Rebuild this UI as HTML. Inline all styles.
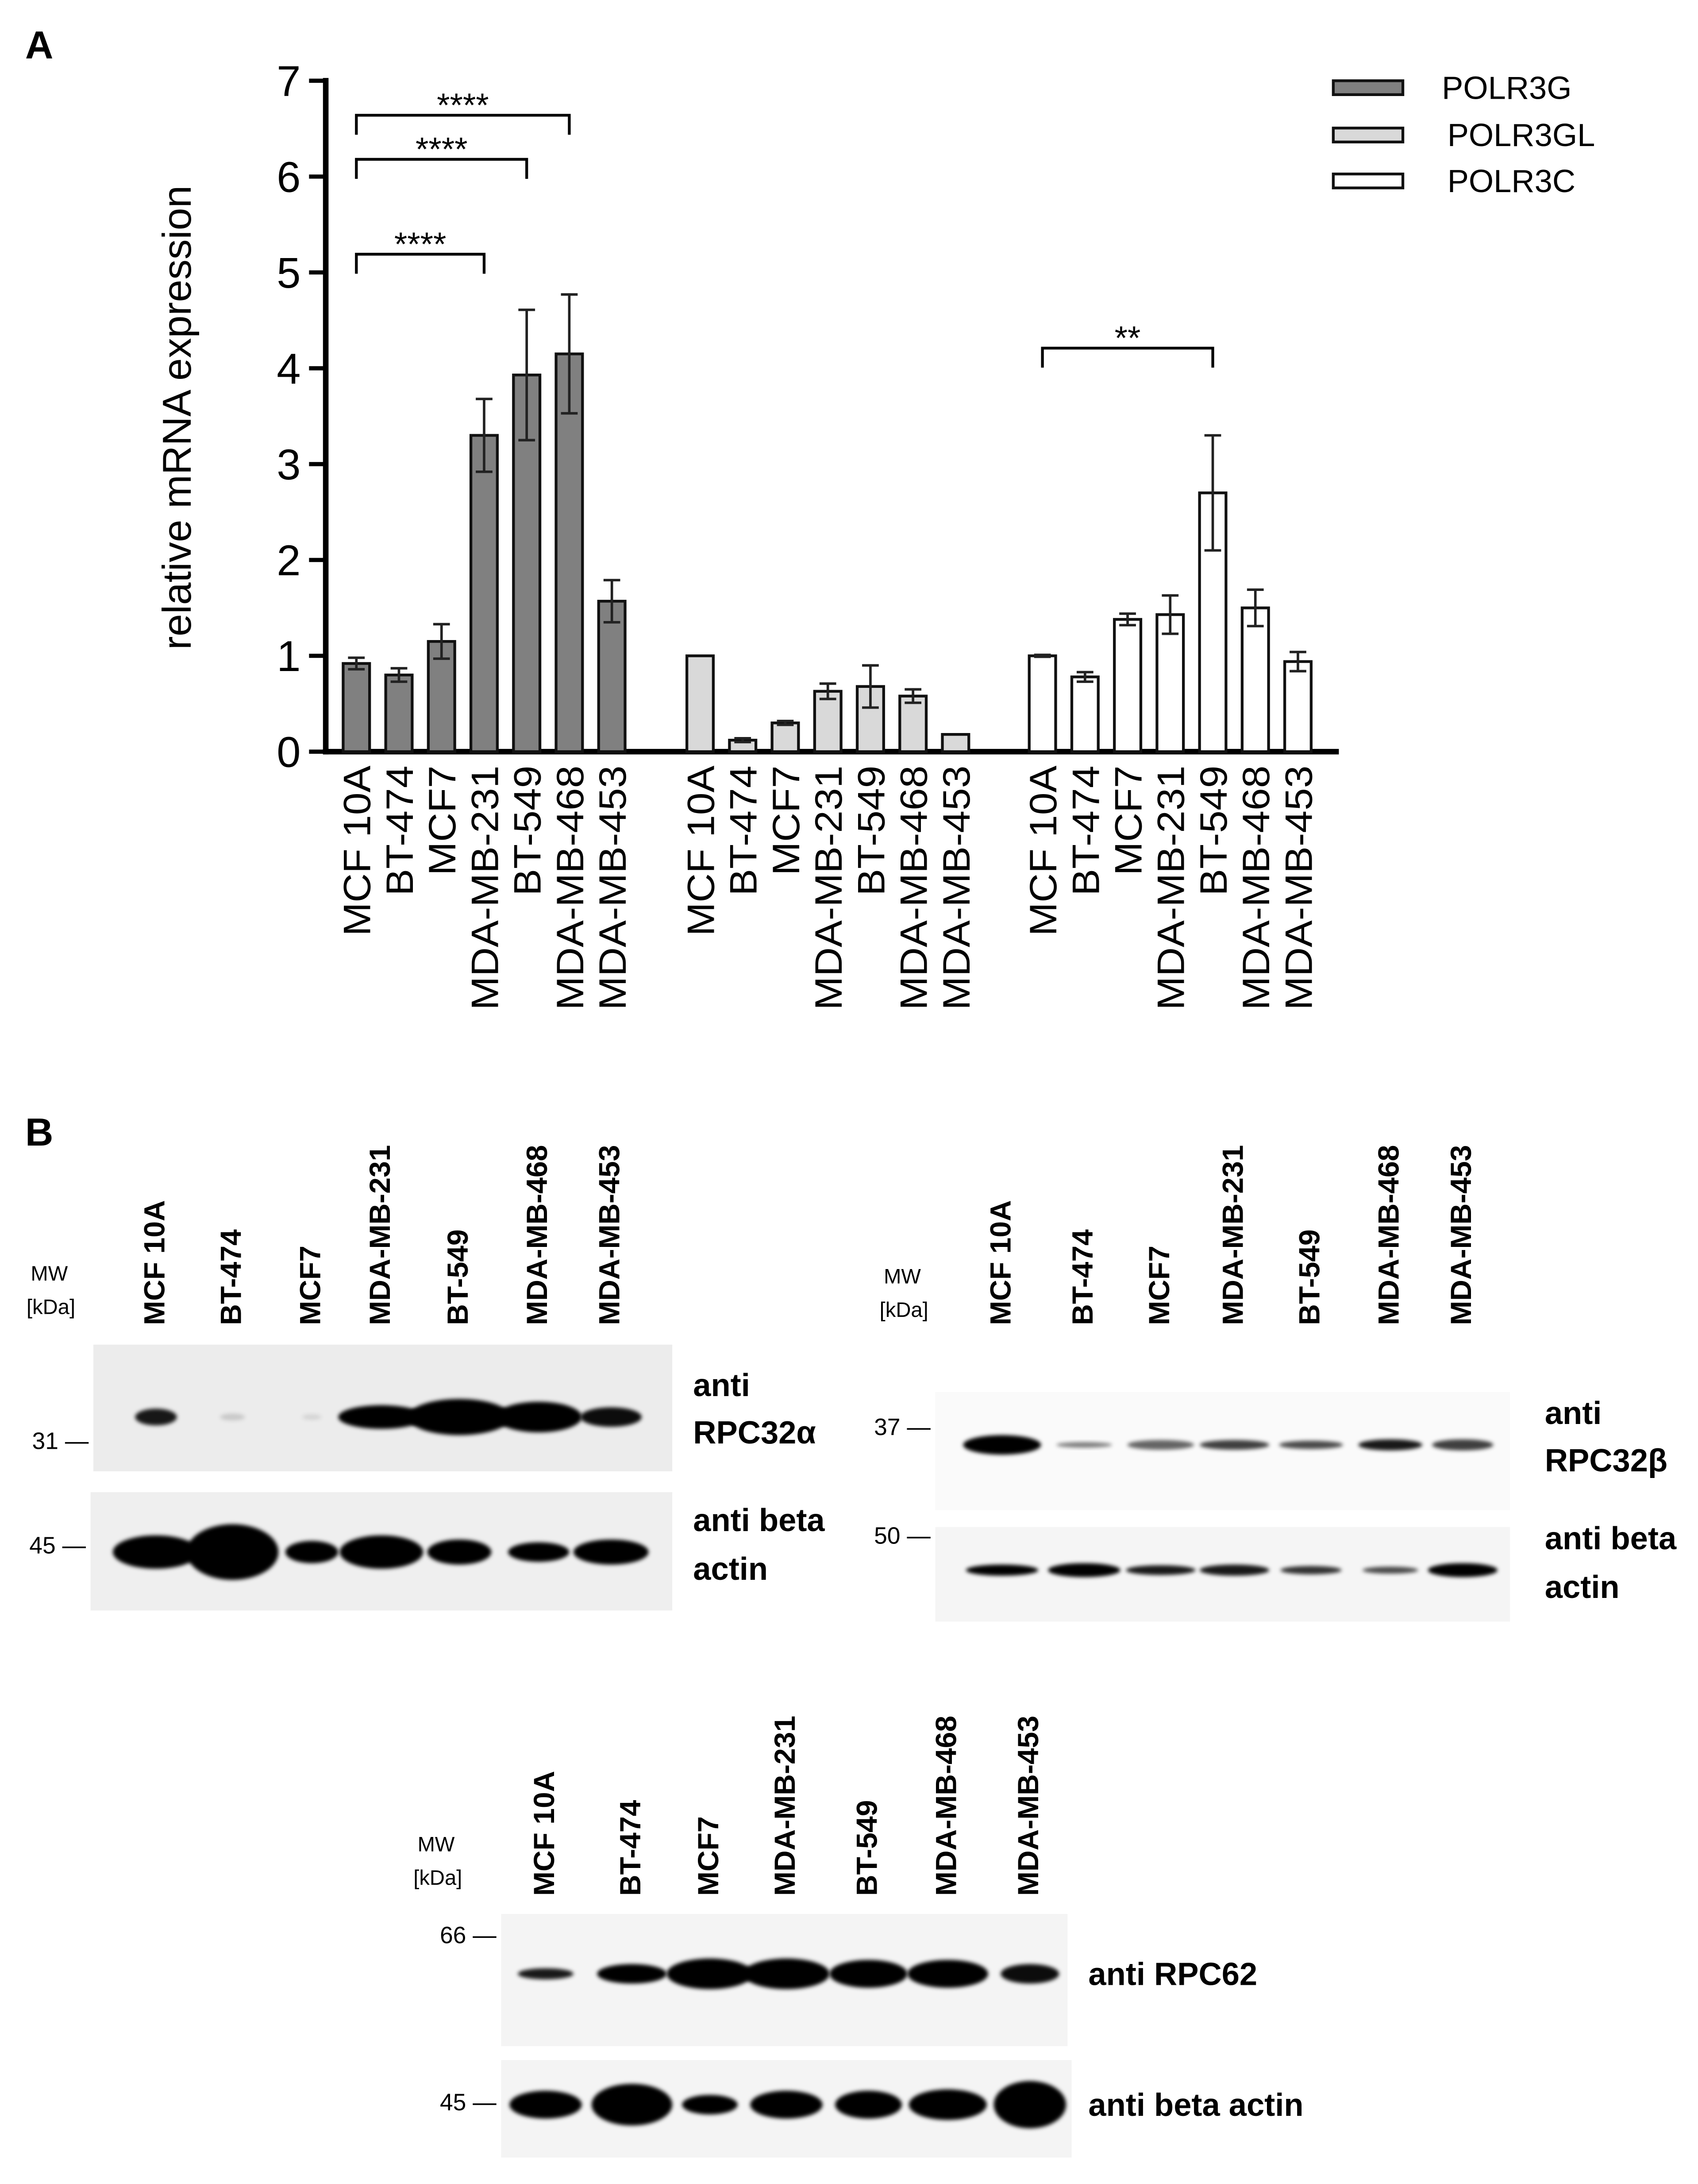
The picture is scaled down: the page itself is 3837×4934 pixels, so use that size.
<!DOCTYPE html>
<html><head><meta charset="utf-8">
<style>
html,body{margin:0;padding:0;background:#fff;}
svg{display:block;}
text{font-family:"Liberation Sans",sans-serif;}
.nar{font-family:"Liberation Sans Narrow","Liberation Sans",sans-serif;}
</style></head>
<body>
<svg id="fig" width="3837" height="4934" viewBox="0 0 1220 1569" xmlns="http://www.w3.org/2000/svg">
<defs>
<filter id="blur" x="-50%" y="-50%" width="200%" height="200%"><feGaussianBlur stdDeviation="1.4"/></filter>
</defs>
<rect x="0" y="0" width="1220" height="1569" fill="#fff"/>
<text x="18" y="42" font-size="28" font-weight="bold">A</text>
<g id="chart"></g>
<g id="blots"></g>
<text x="18" y="823" font-size="28" font-weight="bold">B</text>
</svg>
<script>
const categories = ["MCF 10A","BT-474","MCF7","MDA-MB-231","BT-549","MDA-MB-468","MDA-MB-453"];
const seriesNames = ["POLR3G","POLR3GL","POLR3C"];
const polr3g = [0.92,0.80,1.15,3.30,3.93,4.15,1.57];
const polr3gErr = [0.06,0.07,0.18,0.38,0.68,0.62,0.22];
const polr3gl = [1.00,0.12,0.30,0.63,0.68,0.58,0.18];
const polr3glErr = [0.0,0.02,0.02,0.08,0.22,0.07,0.0];
const polr3c = [1.00,0.78,1.38,1.43,2.70,1.50,0.94];
const polr3cErr = [0.01,0.05,0.06,0.20,0.60,0.19,0.10];
const yTicks = [0,1,2,3,4,5,6,7];
const sigLabels = ["****","****","****","**"];
const sigPairs = [[0,0,5],[0,0,4],[0,0,3],[2,0,4]]; // [series, fromCat, toCat]
const sigLevels = [6.64,6.18,5.19,4.21];

const NS="http://www.w3.org/2000/svg";
function mk(tag, attrs, parent){const e=document.createElementNS(NS,tag);for(const k in attrs)e.setAttribute(k,attrs[k]);parent.appendChild(e);return e;}
const chart=document.getElementById('chart');
const y0=540, yTop=58, yMax=7;
function yScale(v){return y0-(v/yMax)*(y0-yTop);}
const groupStart=[256,503,749], step=30.6, barW=19;
function xScale(s,c){return groupStart[s]+c*step;}
const fills=["#808080","#d9d9d9","#ffffff"];
const vals=[polr3g,polr3gl,polr3c], errs=[polr3gErr,polr3glErr,polr3cErr];

let e=mk('line',{x1:234,y1:yTop-2,x2:234,y2:y0+2,stroke:'#000','stroke-width':4},chart);

e=mk('line',{x1:232,y1:y0,x2:962,y2:y0,stroke:'#000','stroke-width':4},chart);

yTicks.forEach(t=>{
  const y=yScale(t);
  let l=mk('line',{x1:222,y1:y,x2:234,y2:y,stroke:'#000','stroke-width':3},chart);
  
  let tx=mk('text',{x:216,y:y+11,'font-size':31,'text-anchor':'end'},chart);
  tx.textContent=t;
  
});
e=mk('text',{x:0,y:0,'font-size':29,'text-anchor':'middle',transform:'translate(137,300) rotate(-90)'},chart);
e.textContent='relative mRNA expression';


vals.forEach((arr,s)=>{
  arr.forEach((v,c)=>{
    const cx=xScale(s,c), y=yScale(v);
    let r=mk('rect',{x:cx-barW/2,y:y,width:barW,height:y0-y,fill:fills[s],stroke:'#111','stroke-width':2},chart);
    
    
    const er=errs[s][c];
    if(er>0){
      const yh=yScale(v+er), yl=yScale(v-er);
      let g=mk('path',{d:`M${cx},${yh}V${yl}M${cx-6},${yh}H${cx+6}M${cx-6},${yl}H${cx+6}`,stroke:'#222','stroke-width':1.8,fill:'none'},chart);
      
    }
    let t=mk('text',{x:0,y:0,'font-size':29,'text-anchor':'end',transform:`translate(${cx+10},550) rotate(-90) scale(1,0.95)`},chart);
    t.textContent=categories[c];
    
  });
});

sigPairs.forEach((p,i)=>{
  const [s,a,b]=p; const x1=xScale(s,a), x2=xScale(s,b), y=yScale(sigLevels[i]);
  let br=mk('path',{d:`M${x1},${y+14}V${y}H${x2}V${y+14}`,stroke:'#000','stroke-width':2,fill:'none'},chart);
  
  let t=mk('text',{x:(x1+x2)/2,y:y+1,'font-size':24,'text-anchor':'middle'},chart);
  t.textContent=sigLabels[i];
  
});

seriesNames.forEach((n,i)=>{
  const y=[63,97,130][i];
  let r=mk('rect',{x:958,y:y-5,width:50,height:10,fill:fills[i],stroke:'#111','stroke-width':2},chart);
  
  let t=mk('text',{x:i==0?1036:1040,y:y+8,'font-size':23,class:'nar'},chart);
  t.textContent=n;
  
});

const blots=document.getElementById('blots');
const laneNames = categories;
const panels=[
  {lx:[110,165,222,272,328,385,437],lblY:952,mw:[22,920],
   gels:[{x:67,y:966,w:416,h:91,fill:'#ececec',band:1018,marker:['31',1035],ab:['anti','RPC32α'],
          bw:[30,18,14,62,74,62,44],bh:[12,5,4,17,26,22,14],op:[0.9,0.15,0.1,1,1,1,0.95]},
         {x:65,y:1072,w:418,h:85,fill:'#efefef',band:1115,marker:['45',1110],ab:['anti beta','actin'],
          bw:[62,66,38,60,46,44,54],bh:[24,40,16,24,18,14,18],op:[1,1,1,1,1,1,1]}],
   abx:498},
  {lx:[718,777,832,885,940,997,1049],lblY:952,mw:[635,922],
   gels:[{x:672,y:1000,w:413,h:85,fill:'#fafafa',band:1038,marker:['37',1025],ab:['anti','RPC32β'],
          bw:[56,40,48,50,46,46,44],bh:[14,4,7,7,6,8,8],op:[1,0.5,0.6,0.75,0.7,0.9,0.75]},
         {x:672,y:1097,w:413,h:68,fill:'#f5f5f5',band:1128,marker:['50',1103],ab:['anti beta','actin'],
          bw:[52,52,50,50,44,40,50],bh:[8,10,7,8,6,5,10],op:[1,1,0.9,0.9,0.8,0.7,1]}],
   abx:1110},
  {lx:[390,452,508,563,622,679,738],lblY:1362,mw:[300,1330],
   gels:[{x:360,y:1375,w:407,h:95,fill:'#f4f4f4',band:1418,marker:['66',1390],ab:['anti RPC62',null],
          bw:[40,50,62,62,56,58,42],bh:[8,14,22,22,20,20,14],op:[0.9,1,1,1,1,1,0.95]},
         {x:360,y:1480,w:410,h:70,fill:'#f4f4f4',band:1512,marker:['45',1510],ab:['anti beta actin',null],
          bw:[52,58,40,52,48,56,52],bh:[20,30,14,20,20,22,34],op:[1,1,1,1,1,1,1]}],
   abx:782}
];
panels.forEach((p,pi)=>{
  p.lx.forEach((x,i)=>{
    let t=mk('text',{x:0,y:0,'font-size':21,'font-weight':'bold','text-anchor':'start',transform:`translate(${x+8},${p.lblY}) rotate(-90)`},blots);
    t.textContent=laneNames[i];
    
  });
  let m=mk('text',{x:p.mw[0],y:p.mw[1],'font-size':15,class:'nar'},blots);m.textContent='MW';
  
  m=mk('text',{x:p.mw[0]-3,y:p.mw[1]+24,'font-size':15,class:'nar'},blots);m.textContent='[kDa]';
  
  p.gels.forEach(g=>{
    let r=mk('rect',{x:g.x,y:g.y,width:g.w,height:g.h,fill:g.fill},blots);
    
    p.lx.forEach((x,i)=>{
      let b=mk('ellipse',{cx:x+2,cy:g.band,rx:g.bw[i]/2,ry:g.bh[i]/2,fill:'#000','fill-opacity':g.op[i],filter:'url(#blur)'},blots);
      
    });
    let mk1=mk('text',{x:g.x-44,y:g.marker[1]+6,'font-size':17,class:'nar'},blots);
    mk1.textContent=g.marker[0]+' —';
    
    if(g.ab[1]){
      let a=mk('text',{x:p.abx,y:g.band-15,'font-size':23,'font-weight':'bold',class:'nar'},blots);a.textContent=g.ab[0];
      
      a=mk('text',{x:p.abx,y:g.band+15+(g.ab[0]=='anti'?4:5),'font-size':23,'font-weight':'bold',class:'nar'},blots);a.textContent=g.ab[1];
      
    } else {
      let a=mk('text',{x:p.abx,y:g.band+8,'font-size':23,'font-weight':'bold',class:'nar'},blots);a.textContent=g.ab[0];
      
    }
  });
});
</script>
</body></html>
